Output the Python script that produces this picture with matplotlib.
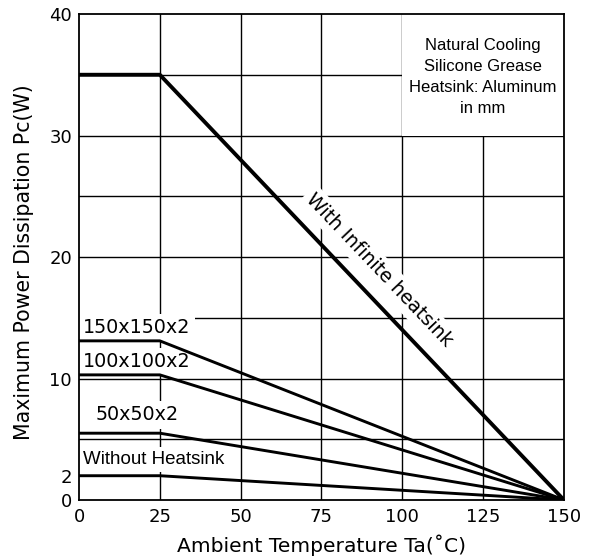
import matplotlib.pyplot as plt
from matplotlib.patches import Rectangle

# ----- data -----
temps = [0, 25, 150]                 # ambient temperature (C)
p_infinite = [35, 35, 0]             # with infinite heatsink
p_150 = [13.1, 13.1, 0]              # 150x150x2
p_100 = [10.3, 10.3, 0]              # 100x100x2
p_50 = [5.5, 5.5, 0]                 # 50x50x2
p_none = [2, 2, 0]                   # without heatsink

x_ticks = [0, 25, 50, 75, 100, 125, 150]
y_ticks = [0, 2, 10, 20, 30, 40]
x_grid = [25, 50, 75, 100, 125]
y_grid = [5, 10, 15, 20, 25, 30, 35]

label_font = "DejaVu Sans"
note_font = "Liberation Sans"

fig = plt.figure(figsize=(5.9, 5.58), dpi=100)
ax = fig.add_axes([0.1339, 0.1039, 0.8220, 0.8710])

ax.set_xlim(0, 150)
ax.set_ylim(0, 40)

# grid drawn by hand so labels can blank it out
for xg in x_grid:
    ax.axvline(xg, color="black", lw=1.0, zorder=0.5)
for yg in y_grid:
    ax.axhline(yg, color="black", lw=1.0, zorder=0.5)

# white area behind the note in the upper right
ax.add_patch(Rectangle((100, 30), 50, 10, facecolor="white",
                       edgecolor="none", zorder=1))

# curves
ax.plot(temps, p_infinite, color="black", lw=2.8, zorder=3)
ax.plot(temps, p_150, color="black", lw=2.1, zorder=3)
ax.plot(temps, p_100, color="black", lw=2.1, zorder=3)
ax.plot(temps, p_50, color="black", lw=2.1, zorder=3)
ax.plot(temps, p_none, color="black", lw=2.1, zorder=3)

box = dict(facecolor="white", edgecolor="none", pad=3)

ax.text(1.3, 14.2, "150x150x2", family=label_font, fontsize=13.8,
        ha="left", va="center", bbox=box, zorder=2)
ax.text(1.3, 11.4, "100x100x2", family=label_font, fontsize=13.8,
        ha="left", va="center", bbox=box, zorder=2)
ax.text(5.0, 7.0, "50x50x2", family=label_font, fontsize=13.8,
        ha="left", va="center", bbox=box, zorder=2)
ax.text(1.2, 3.35, "Without Heatsink", family=note_font, fontsize=13.5,
        ha="left", va="center", bbox=box, zorder=2)
ax.text(93.0, 18.9, "With Infinite heatsink", family=label_font, fontsize=13.8,
        rotation=-46.4, rotation_mode="anchor", ha="center", va="center",
        bbox=box, zorder=2)

ax.text(125, 34.8, "Natural Cooling\nSilicone Grease\nHeatsink: Aluminum\nin mm",
        family=note_font, fontsize=12, ha="center", va="center",
        linespacing=1.5, zorder=2)

# axes styling
ax.set_xticks(x_ticks)
ax.set_yticks(y_ticks)
ax.tick_params(length=0, labelsize=13)
ax.tick_params(axis="x", pad=6)
ax.tick_params(axis="y", pad=5)
for lab in ax.get_xticklabels() + ax.get_yticklabels():
    lab.set_family(label_font)
for sp in ax.spines.values():
    sp.set_linewidth(1.3)
    sp.set_zorder(4)

ax.set_xlabel("Ambient Temperature Ta(˚C)", family=label_font, fontsize=14.6)
ax.set_ylabel("Maximum Power Dissipation Pc(W)", family=label_font, fontsize=14.8)
ax.xaxis.set_label_coords(0.5, -0.0926)
ax.xaxis.label.set_va("center")
ax.yaxis.set_label_coords(-0.1135, 0.49)
ax.yaxis.label.set_va("center")

fig.savefig("out.png", dpi=100)
